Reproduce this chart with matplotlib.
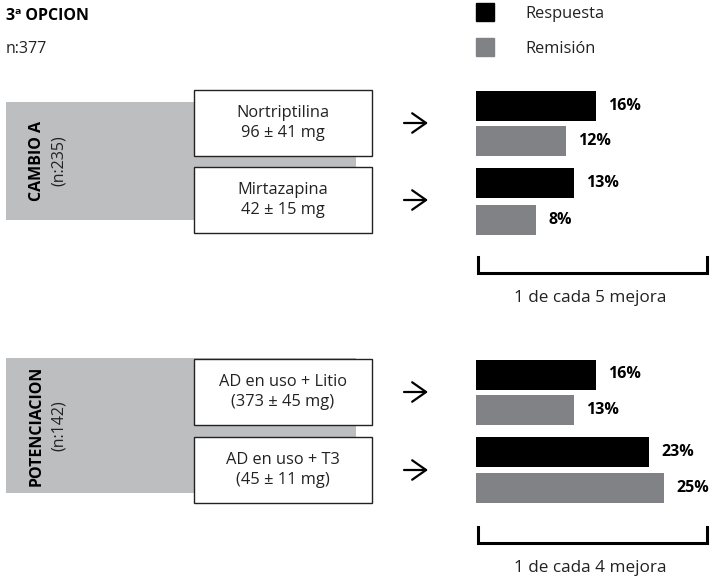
import matplotlib
matplotlib.use('Agg')
import matplotlib.pyplot as plt
from matplotlib.patches import Rectangle

plt.rcParams['font.family'] = ['Open Sans', 'DejaVu Sans']

# results per treatment (percent)
treatments = ['Nortriptilina\n96 ± 41 mg', 'Mirtazapina\n42 ± 15 mg',
              'AD en uso + Litio\n(373 ± 45 mg)', 'AD en uso + T3\n(45 ± 11 mg)']
respuesta = [16, 13, 16, 23]
remision = [12, 8, 13, 25]

groups = ['CAMBIO A', 'POTENCIACION']
group_n = ['(n:235)', '(n:142)']
summaries = ['1 de cada 5 mejora', '1 de cada 4 mejora']

BLACK = '#000000'
GREY_BAR = '#818285'
GREY_BLOCK = '#bcbec0'
TEXT = '#222222'

W, H = 718, 578
fig = plt.figure(figsize=(W / 100, H / 100), dpi=100)

# page layer in pixel coordinates
ax = fig.add_axes([0, 0, 1, 1])
ax.set_xlim(0, W)
ax.set_ylim(H, 0)
ax.axis('off')

ax.text(6, 16, '3ª OPCION', fontsize=11.5, fontweight='bold', va='center', ha='left')
ax.text(6, 49, 'n:377', fontsize=11.5, va='center', ha='left', color=TEXT)

# legend
ax.add_patch(Rectangle((476, 3), 18, 18, color=BLACK))
ax.add_patch(Rectangle((476, 38), 18, 18, color=GREY_BAR))
ax.text(525, 14, 'Respuesta', fontsize=11.8, va='center', color=TEXT)
ax.text(525, 49, 'Remisión', fontsize=11.8, va='center', color=TEXT)

# block layout for each group: (block top, block bottom, box tops, bracket top)
blocks = [(102, 220, [90, 167], 257), (358, 493, [359, 437], 527)]
box_h = 66

for gi, (top, bot, box_tops, br_top) in enumerate(blocks):
    ax.add_patch(Rectangle((6, top), 350, bot - top, color=GREY_BLOCK, lw=0))
    cy = (top + bot) / 2
    ax.text(37, cy, groups[gi], rotation=90, fontsize=11.5, fontweight='bold',
            ha='center', va='center')
    ax.text(59, cy, group_n[gi], rotation=90, fontsize=11.5,
            ha='center', va='center', color=TEXT)
    for bi, bt in enumerate(box_tops):
        ax.add_patch(Rectangle((194, bt), 178, box_h, facecolor='white',
                               edgecolor=TEXT, lw=1.0))
        ax.text(283, bt + box_h / 2, treatments[gi * 2 + bi], fontsize=11.8,
                ha='center', va='center', linespacing=1.3, color=TEXT)
        ay = bt + box_h / 2
        ax.annotate('', xy=(428, ay), xytext=(404, ay),
                    arrowprops=dict(arrowstyle='->,head_length=1.0,head_width=0.7',
                                    lw=1.6, color=BLACK, shrinkA=0, shrinkB=0))
    # bracket under the bars
    ax.plot([478, 478, 707, 707], [br_top, br_top + 16, br_top + 16, br_top],
            color=BLACK, lw=2.2, solid_joinstyle='miter')
    ax.text(590, br_top + 41, summaries[gi], fontsize=12.3, ha='center',
            va='center', color=TEXT)

# bar layer: x in percent, y in pixels
axb = fig.add_axes([476 / W, 0, 232 / W, 1])
axb.set_ylim(H, 0)
axb.set_xlim(0, 232 / 7.5)
axb.axis('off')

resp_y = [105.5, 183, 374.5, 452]
rem_y = [141, 219.5, 410, 487.5]
bar_h = 30

axb.barh(resp_y, respuesta, height=bar_h, color=BLACK)
axb.barh(rem_y, remision, height=bar_h, color=GREY_BAR)

for y, v in zip(resp_y + rem_y, respuesta + remision):
    axb.annotate(f'{v}%', xy=(v, y), xytext=(9, 0), textcoords='offset points',
                 fontsize=11.5, fontweight='bold', va='center', ha='left')

fig.savefig('out.png', dpi=100)
